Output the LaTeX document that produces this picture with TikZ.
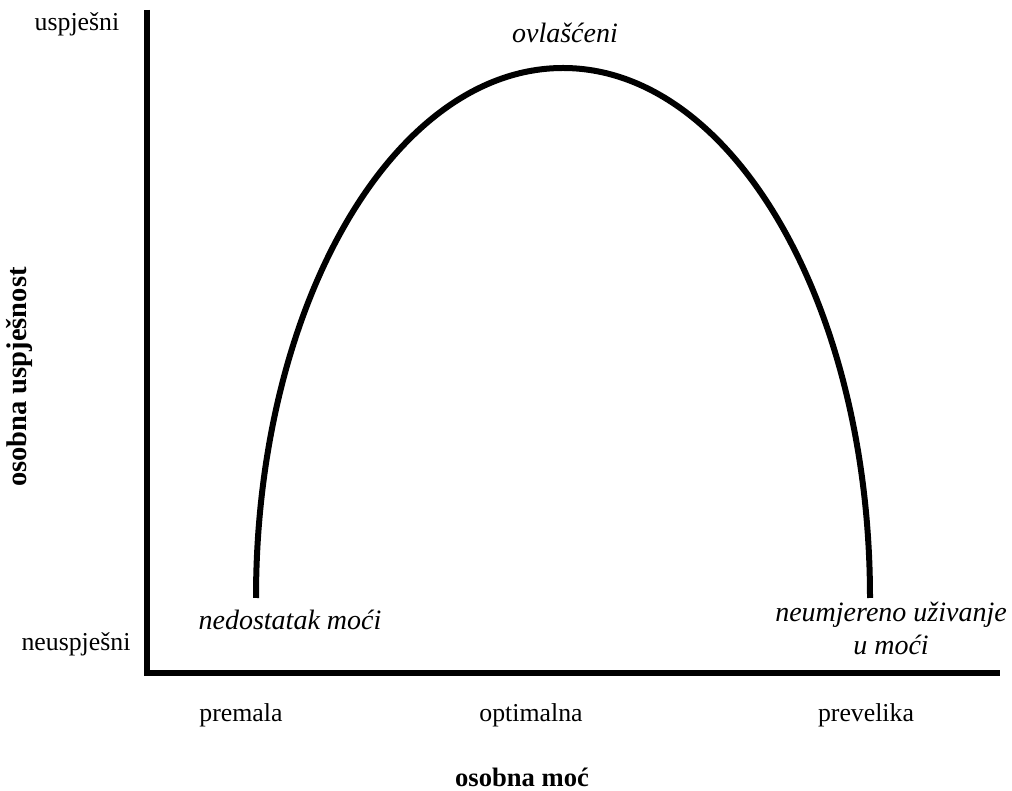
\documentclass[tikz,border=0pt]{standalone}
\usepackage{fontspec}
\setmainfont{Liberation Serif}
\usepackage{tikz}
\usetikzlibrary{positioning, calc}

\begin{document}
\begin{tikzpicture}[
    x=1pt, y=1pt,
    axis/.style={line width=6pt, line join=miter},
    curve/.style={line width=6pt},
    level/.style={font=\fontsize{25.8}{30}\selectfont, inner sep=0pt},
    zone/.style={font=\fontsize{28}{33}\selectfont\itshape, inner sep=0pt, align=center},
    title/.style={font=\fontsize{26.6}{31}\selectfont\bfseries, inner sep=0pt}
]
\useasboundingbox (0,0) rectangle (1012,790);

% Axes
\coordinate (origin) at (147,117);
\coordinate (ytop) at (147,780);
\coordinate (xend) at (1000,117);
\draw[axis] (ytop) -- (origin) -- (xend);

% Curve
\coordinate (low) at (256,192);
\draw[curve] (low) arc[start angle=180, end angle=0, x radius=307, y radius=530];

% Y labels
\node[level] (yhigh) at (77,766) {uspješni};
\node[level] (ylow) at (76,146) {neuspješni};
\node[title, font=\fontsize{28.5}{33}\selectfont\bfseries, rotate=90] (ytitle) at (19,413) {osobna uspješnost};

% Zone labels
\node[zone] (peak) at (565,757) {ovlašćeni};
\node[zone] (lack) at (290,170) {nedostatak moći};
\node[zone] (excess) at (891,162) {neumjereno uživanje\\u moći};

% X labels
\node[level] (xlow) at (241,75) {premala};
\node[level] (xmid) at (531,75) {optimalna};
\node[level] (xhigh) at (866,75) {prevelika};
\node[title] (xtitle) at (522,13) {osobna moć};

\end{tikzpicture}
\end{document}
